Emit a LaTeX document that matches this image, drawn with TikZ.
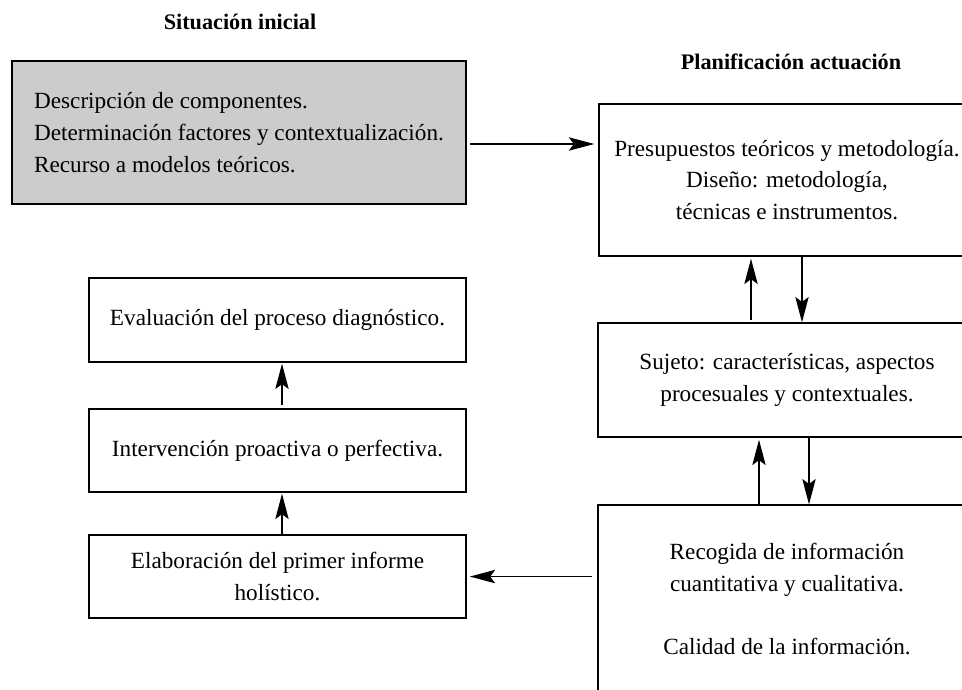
\documentclass[tikz,border=0pt]{standalone}
\usepackage{fontspec}
\setmainfont{Liberation Serif}
\usepackage{tikz}
\usetikzlibrary{arrows.meta,positioning}
\usepackage{xcolor}
\definecolor{dgfill}{RGB}{204,204,204}
\tikzstyle{arrow} = [line width=0.8pt,-{Stealth[length=18pt,width=9.5pt,inset=3.5pt]}]
\tikzstyle{bloque} = [rectangle, draw=black, line width=1.05pt, text centered, align=center, inner sep=0pt]
\tikzstyle{titulo} = [font=\fontsize{15.8}{19}\selectfont\bfseries]

\begin{document}
\begin{tikzpicture}[x=0.025cm, y=-0.025cm, font=\fontsize{16.5}{22.5}\selectfont]
\useasboundingbox (0,0) rectangle (962,690);
\clip (0,0) rectangle (962,690);

% Titles
\node[titulo] (tinicial) at (240,22) {Situación inicial};
\node[titulo] (tplan) at (791,62) {Planificación actuación};

% Left side
\node (inicial) [bloque, fill=dgfill, align=left, minimum width=11.35cm, minimum height=3.575cm] at (239,132.5) {Descripción de componentes.\\Determinación factores y contextualización.\\Recurso a modelos teóricos.};
\node (evaluacion) [bloque, minimum width=9.425cm, minimum height=2.1cm] at (277.5,320) {Evaluación del proceso diagnóstico.};
\node (intervencion) [bloque, below of=evaluacion, node distance=3.2625cm, minimum width=9.425cm, minimum height=2.075cm] {Intervención proactiva o perfectiva.};
\node (elaboracion) [bloque, below of=intervencion, node distance=3.15cm, minimum width=9.425cm, minimum height=2.075cm] {Elaboración del primer informe\\holístico.};

% Right side
\node (presupuestos) [bloque, minimum width=9.4cm, minimum height=3.8cm] at (787,180) {Presupuestos teóricos y metodología.\\Diseño: metodología,\\técnicas e instrumentos.};
\node (sujeto) [bloque, below of=presupuestos, node distance=5cm, minimum width=9.45cm, minimum height=2.85cm] {Sujeto: características, aspectos\\procesuales y contextuales.};
\node (recogida) [bloque, below of=sujeto, node distance=5.475cm, minimum width=9.45cm, minimum height=4.7cm] {Recogida de información\\cuantitativa y cualitativa.\\[22.5pt]Calidad de la información.};

% Connections
\draw[arrow, shorten <=0.075cm, shorten >=0.1cm] (inicial.east |- 0,144) -- (presupuestos.west |- 0,144);
\draw[arrow, shorten <=0.05cm, shorten >=0.05cm] (sujeto.north -| 751,0) -- (presupuestos.south -| 751,0);
\draw[arrow] (presupuestos.south -| 802,0) -- (sujeto.north -| 802,0);
\draw[arrow, shorten >=0.05cm] (recogida.north -| 759,0) -- (sujeto.south -| 759,0);
\draw[arrow] (sujeto.south -| 809,0) -- (recogida.north -| 809,0);
\draw[arrow, shorten <=0.125cm, shorten >=0.075cm] (recogida.west |- elaboracion.east) -- (elaboracion.east);
\draw[arrow, shorten >=0.025cm] (elaboracion.north -| 282,0) -- (intervencion.south -| 282,0);
\draw[arrow, shorten <=0.075cm, shorten >=0.025cm] (intervencion.north -| 282,0) -- (evaluacion.south -| 282,0);
\end{tikzpicture}
\end{document}
